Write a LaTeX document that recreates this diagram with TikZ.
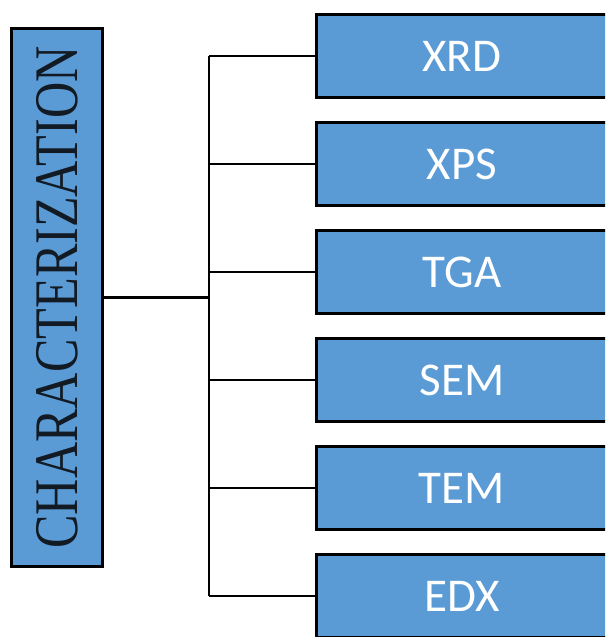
\documentclass[tikz,border=0pt]{standalone}
\usepackage{fontspec}
\setmainfont{Liberation Serif}
\newfontfamily\boxfont{Carlito}
\definecolor{boxblue}{HTML}{5B9BD5}
\definecolor{inkdark}{HTML}{121A24}
\begin{document}
\begin{tikzpicture}[x=1pt,y=1pt,
  method/.style={draw=black, line width=3pt, fill=boxblue, minimum width=300pt, minimum height=83pt,
    inner sep=0pt, text=white, font=\boxfont\fontsize{47}{47}\selectfont},
  mainbox/.style={draw=black, line width=3pt, fill=boxblue, minimum width=91pt, minimum height=538pt,
    inner sep=0pt, text=inkdark, font=\fontsize{62}{62}\selectfont},
  link/.style={draw=black, line width=2.5pt}]
\useasboundingbox (0,0) rectangle (605,637);
\clip (0,0) rectangle (605,637);
\node[mainbox] (char) at (57,339.5) {\rotatebox{90}{\scalebox{0.81}[1]{CHARACTERIZATION}}};
\node[method] (xrd) at (466.5,581) {\hspace*{-9pt}XRD};
\node[method] (xps) at (466.5,473) {\hspace*{-9pt}XPS};
\node[method] (tga) at (466.5,365) {\hspace*{-9pt}TGA};
\node[method] (sem) at (466.5,257) {\hspace*{-9pt}SEM};
\node[method] (tem) at (466.5,149) {\hspace*{-9pt}TEM};
\node[method] (edx) at (466.5,41) {\hspace*{-9pt}EDX};
\coordinate (jn) at (209,339);
\draw[link] (char.east) -- (char.east -| jn);
\draw[link] (xrd.west -| jn) -- (edx.west -| jn);
\foreach \b in {xrd,xps,tga,sem,tem,edx}{
  \draw[link] (\b.west -| jn) -- (\b.west);
}
\end{tikzpicture}
\end{document}
